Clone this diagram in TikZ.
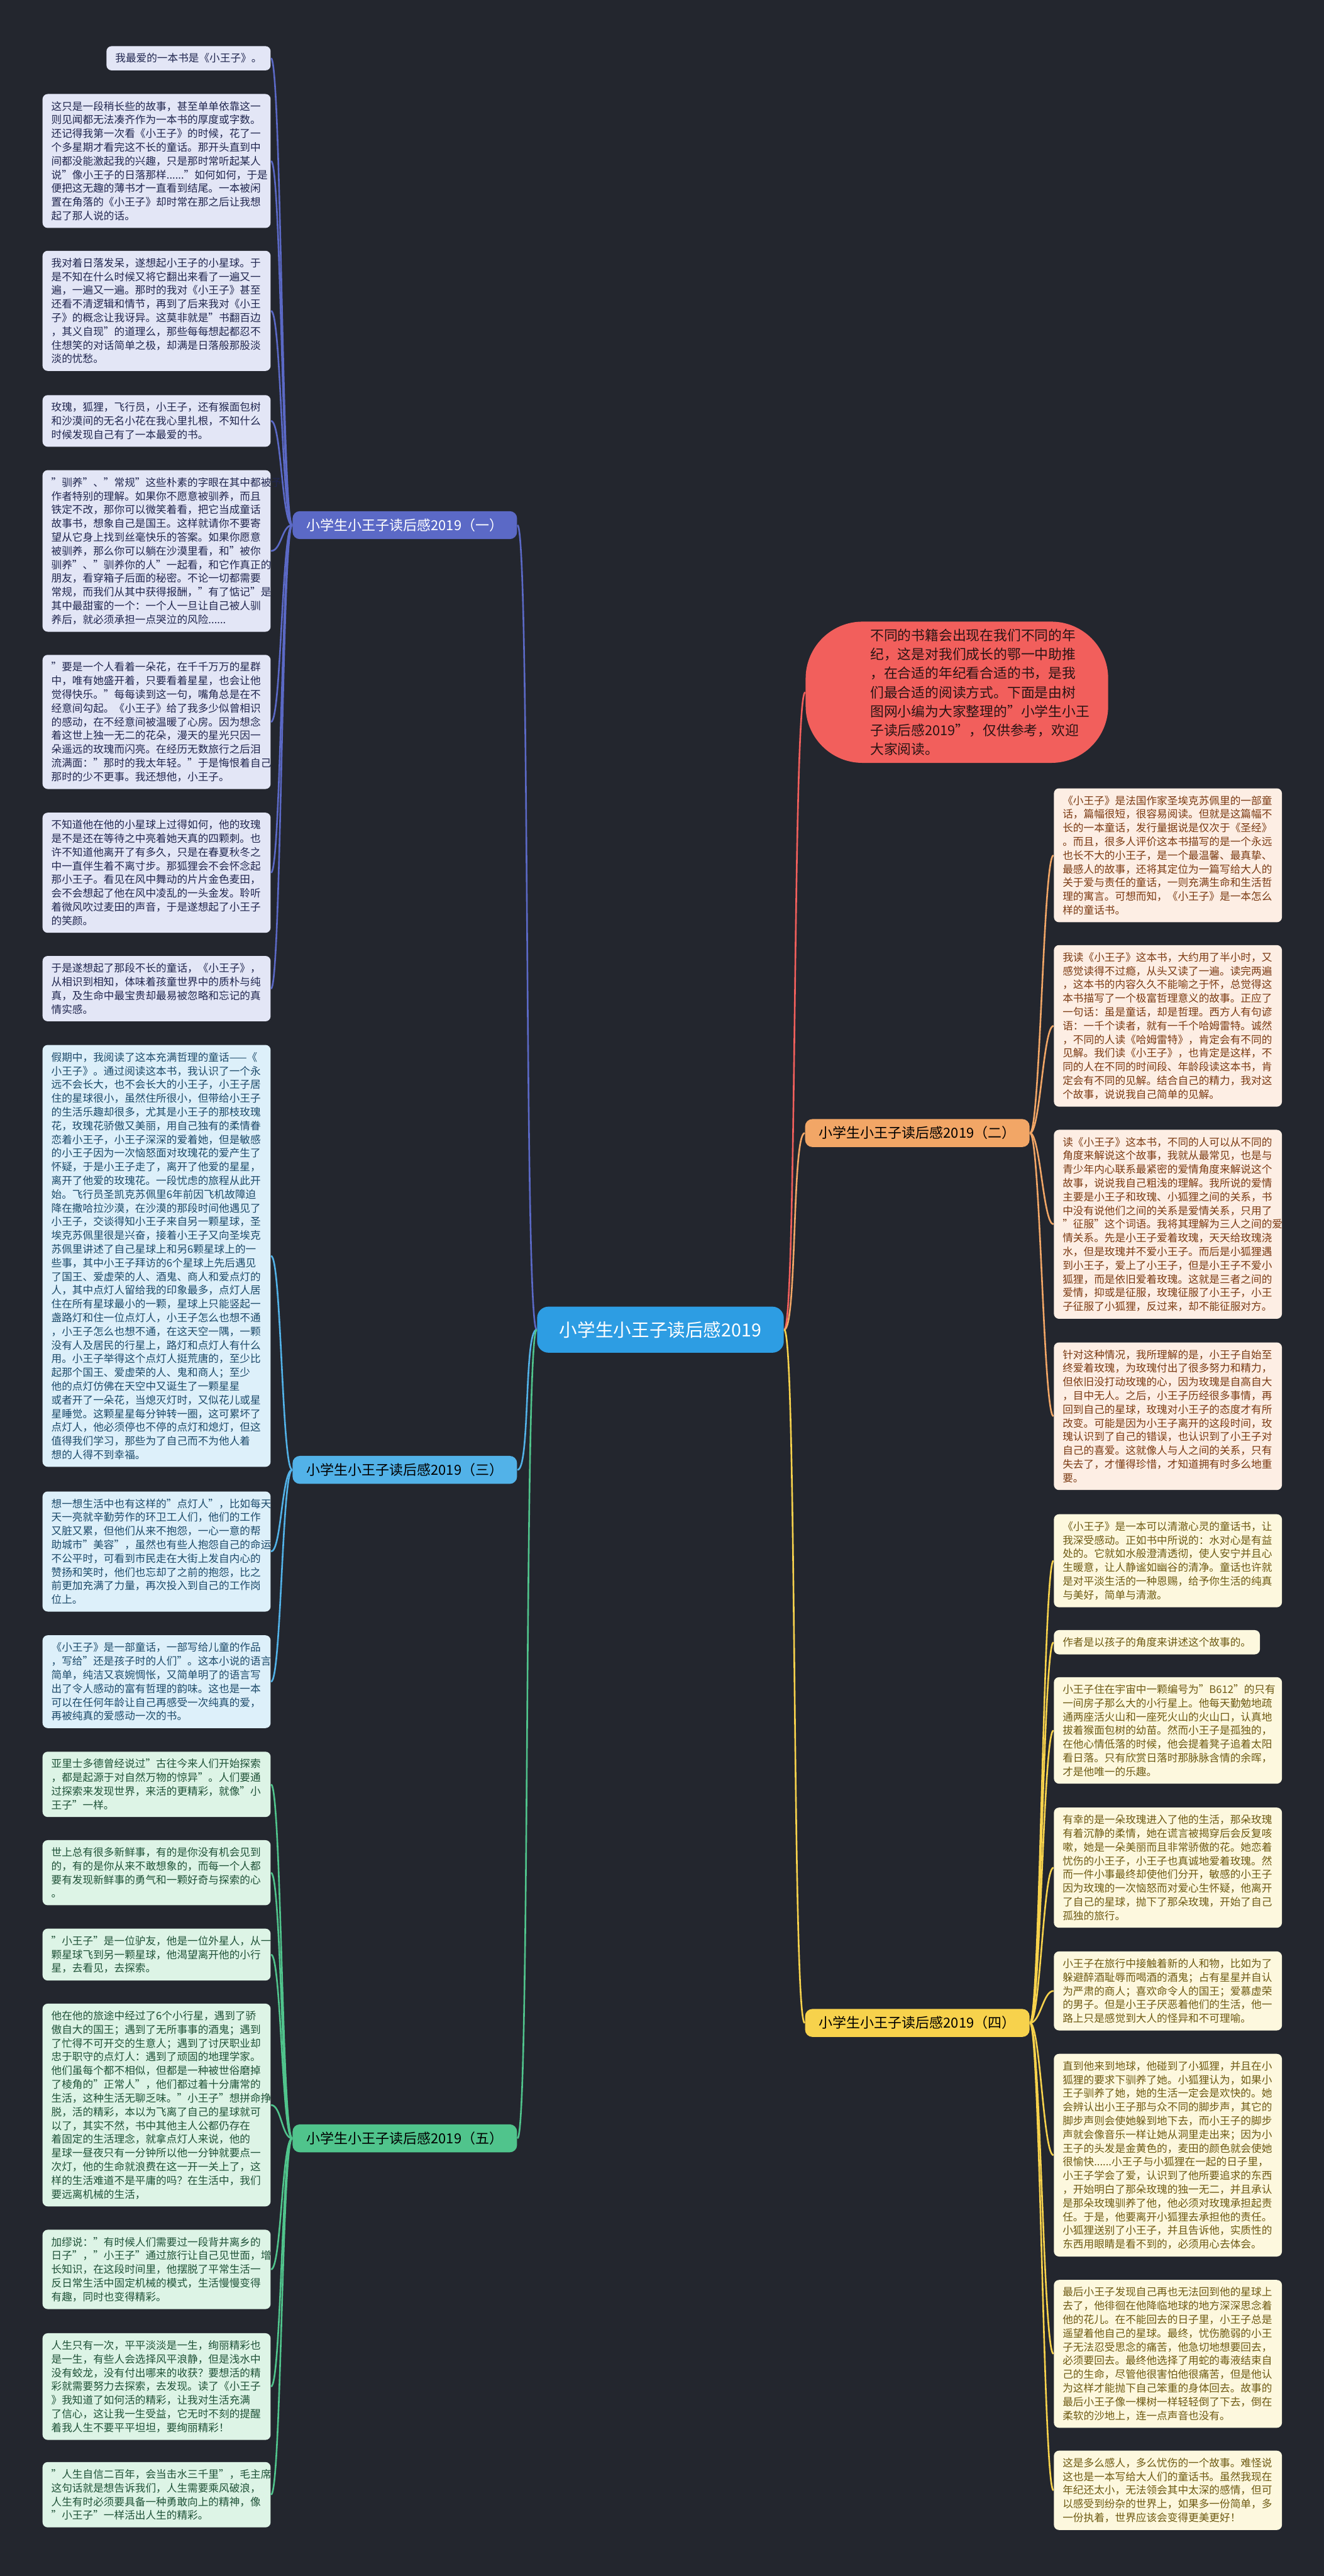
\documentclass[tikz,border=0pt]{standalone}
\usepackage{fontspec}
\setmainfont{Noto Sans CJK SC}
\usetikzlibrary{calc}

% colours of the map
\definecolor{bgdark}{HTML}{23262E}
\definecolor{rootblue}{HTML}{2D9DE3}
\definecolor{introred}{HTML}{F25F5C}
\definecolor{introtext}{HTML}{2A1414}
\definecolor{oneline}{HTML}{5B69C6}
\definecolor{oneleaf}{HTML}{E3E6F6}
\definecolor{onetext}{HTML}{20264F}
\definecolor{twoline}{HTML}{F2A666}
\definecolor{twoleaf}{HTML}{FDEEE4}
\definecolor{twotext}{HTML}{7B3A12}
\definecolor{threeline}{HTML}{52B2E8}
\definecolor{threeleaf}{HTML}{DDF0FA}
\definecolor{threetext}{HTML}{1C4A6A}
\definecolor{fourline}{HTML}{F7D24C}
\definecolor{fourleaf}{HTML}{FDF8DE}
\definecolor{fourtext}{HTML}{6E5A12}
\definecolor{fiveline}{HTML}{50C48C}
\definecolor{fiveleaf}{HTML}{DDF4E6}
\definecolor{fivetext}{HTML}{1F5238}

\begin{document}
\begin{tikzpicture}[
    leaf/.style={rounded corners=0.1cm, inner xsep=0.17cm, inner ysep=0.14cm,
      align=left, font=\fontsize{5.76pt}{7.54pt}\selectfont},
    wide/.style={text width=4.07cm},
    oneleaf/.style={leaf, fill=oneleaf, text=onetext},
    twoleaf/.style={leaf, fill=twoleaf, text=twotext},
    threeleaf/.style={leaf, fill=threeleaf, text=threetext},
    fourleaf/.style={leaf, fill=fourleaf, text=fourtext},
    fiveleaf/.style={leaf, fill=fiveleaf, text=fivetext},
    branch/.style={rounded corners=0.14cm, minimum width=4.34cm, minimum height=0.54cm,
      inner sep=0pt, font=\fontsize{7.6pt}{9pt}\selectfont},
    link/.style={line width=0.9pt}
  ]
  % background and page size
  \fill[bgdark] (0,0) rectangle (25.6,-49.79);
  \useasboundingbox (0,0) rectangle (25.6,-49.79);

  % root and introduction
  \node[fill=rootblue, text=white, rounded corners=0.22cm, minimum width=4.77cm,
    minimum height=0.89cm, font=\fontsize{9.9pt}{12pt}\selectfont] (root) at (12.77,-25.70)
    {小学生小王子读后感2019};
  \node[fill=introred, rounded corners=1.1cm, anchor=west, inner sep=0pt,
    minimum width=5.85cm, minimum height=2.73cm] (intro) at (15.57,-13.38) {};
  \node[text=introtext, anchor=west, align=left, inner sep=0pt,
    font=\fontsize{7.54pt}{10.4pt}\selectfont] (introtext) at (16.82,-13.38)
    {不同的书籍会出现在我们不同的年\\
     纪，这是对我们成长的鄂一中助推\\
     ，在合适的年纪看合适的书，是我\\
     们最合适的阅读方式。下面是由树\\
     图网小编为大家整理的"小学生小王\\
     子读后感2019"，仅供参考，欢迎\\
     大家阅读。};

  % the five branches
  \node[branch, fill=oneline, text=white, anchor=west] (one) at (5.65,-10.15)
    {小学生小王子读后感2019（一）};
  \node[branch, fill=twoline, text=black, anchor=west] (two) at (15.56,-21.90)
    {小学生小王子读后感2019（二）};
  \node[branch, fill=threeline, text=black, anchor=west] (three) at (5.65,-28.41)
    {小学生小王子读后感2019（三）};
  \node[branch, fill=fourline, text=black, anchor=west] (four) at (15.56,-39.10)
    {小学生小王子读后感2019（四）};
  \node[branch, fill=fiveline, text=black, anchor=west] (five) at (5.65,-41.33)
    {小学生小王子读后感2019（五）};

  % leaves of branch one
  \node[oneleaf, anchor=north east] (a1) at (5.24,-0.885) {我最爱的一本书是《小王子》。};
  \node[oneleaf, wide, anchor=north east] (a2) at (5.24,-1.81)
    {这只是一段稍长些的故事，甚至单单依靠这一\\
     则见闻都无法凑齐作为一本书的厚度或字数。\\
     还记得我第一次看《小王子》的时候，花了一\\
     个多星期才看完这不长的童话。那开头直到中\\
     间都没能激起我的兴趣，只是那时常听起某人\\
     说"像小王子的日落那样......"如何如何，于是\\
     便把这无趣的薄书才一直看到结尾。一本被闲\\
     置在角落的《小王子》却时常在那之后让我想\\
     起了那人说的话。};
  \node[oneleaf, wide, anchor=north east] (a3) at (5.24,-4.84)
    {我对着日落发呆，遂想起小王子的小星球。于\\
     是不知在什么时候又将它翻出来看了一遍又一\\
     遍，一遍又一遍。那时的我对《小王子》甚至\\
     还看不清逻辑和情节，再到了后来我对《小王\\
     子》的概念让我讶异。这莫非就是"书翻百边\\
     ，其义自现"的道理么，那些每每想起都忍不\\
     住想笑的对话简单之极，却满是日落般那股淡\\
     淡的忧愁。};
  \node[oneleaf, wide, anchor=north east] (a4) at (5.24,-7.63)
    {玫瑰，狐狸，飞行员，小王子，还有猴面包树\\
     和沙漠间的无名小花在我心里扎根，不知什么\\
     时候发现自己有了一本最爱的书。};
  \node[oneleaf, wide, anchor=north east] (a5) at (5.24,-9.08)
    {"驯养"、"常规"这些朴素的字眼在其中都被予\\
     作者特别的理解。如果你不愿意被驯养，而且\\
     铁定不改，那你可以微笑着看，把它当成童话\\
     故事书，想象自己是国王。这样就请你不要寄\\
     望从它身上找到丝毫快乐的答案。如果你愿意\\
     被驯养，那么你可以躺在沙漠里看，和"被你\\
     驯养"、"驯养你的人"一起看，和它作真正的\\
     朋友，看穿箱子后面的秘密。不论一切都需要\\
     常规，而我们从其中获得报酬，"有了惦记"是\\
     其中最甜蜜的一个：一个人一旦让自己被人驯\\
     养后，就必须承担一点哭泣的风险......};
  \node[oneleaf, wide, anchor=north east] (a6) at (5.24,-12.65)
    {"要是一个人看着一朵花，在千千万万的星群\\
     中，唯有她盛开着，只要看着星星，也会让他\\
     觉得快乐。"每每读到这一句，嘴角总是在不\\
     经意间勾起。《小王子》给了我多少似曾相识\\
     的感动，在不经意间被温暖了心房。因为想念\\
     着这世上独一无二的花朵，漫天的星光只因一\\
     朵遥远的玫瑰而闪亮。在经历无数旅行之后泪\\
     流满面："那时的我太年轻。"于是悔恨着自己\\
     那时的少不更事。我还想他，小王子。};
  \node[oneleaf, wide, anchor=north east] (a7) at (5.24,-15.70)
    {不知道他在他的小星球上过得如何，他的玫瑰\\
     是不是还在等待之中亮着她天真的四颗刺。也\\
     许不知道他离开了有多久，只是在春夏秋冬之\\
     中一直伴生着不离寸步。那狐狸会不会怀念起\\
     那小王子。看见在风中舞动的片片金色麦田，\\
     会不会想起了他在风中凌乱的一头金发。聆听\\
     着微风吹过麦田的声音，于是遂想起了小王子\\
     的笑颜。};
  \node[oneleaf, wide, anchor=north east] (a8) at (5.24,-18.47)
    {于是遂想起了那段不长的童话，《小王子》，\\
     从相识到相知，体味着孩童世界中的质朴与纯\\
     真，及生命中最宝贵却最易被忽略和忘记的真\\
     情实感。};

  % leaves of branch three
  \node[threeleaf, wide, anchor=north east] (c1) at (5.24,-20.19)
    {假期中，我阅读了这本充满哲理的童话——《\\
     小王子》。通过阅读这本书，我认识了一个永\\
     远不会长大，也不会长大的小王子，小王子居\\
     住的星球很小，虽然住所很小，但带给小王子\\
     的生活乐趣却很多，尤其是小王子的那枝玫瑰\\
     花，玫瑰花骄傲又美丽，用自己独有的柔情眷\\
     恋着小王子，小王子深深的爱着她，但是敏感\\
     的小王子因为一次恼怒面对玫瑰花的爱产生了\\
     怀疑，于是小王子走了，离开了他爱的星星，\\
     离开了他爱的玫瑰花。一段忧虑的旅程从此开\\
     始。飞行员圣凯克苏佩里6年前因飞机故障迫\\
     降在撒哈拉沙漠，在沙漠的那段时间他遇见了\\
     小王子，交谈得知小王子来自另一颗星球，圣\\
     埃克苏佩里很是兴奋，接着小王子又向圣埃克\\
     苏佩里讲述了自己星球上和另6颗星球上的一\\
     些事，其中小王子拜访的6个星球上先后遇见\\
     了国王、爱虚荣的人、酒鬼、商人和爱点灯的\\
     人，其中点灯人留给我的印象最多，点灯人居\\
     住在所有星球最小的一颗，星球上只能竖起一\\
     盏路灯和住一位点灯人，小王子怎么也想不通\\
     ，小王子怎么也想不通，在这天空一隅，一颗\\
     没有人及居民的行星上，路灯和点灯人有什么\\
     用。小王子举得这个点灯人挺荒唐的，至少比\\
     起那个国王、爱虚荣的人、鬼和商人；至少\\
     他的点灯仿佛在天空中又诞生了一颗星星\\
     或者开了一朵花，当熄灭灯时，又似花儿或星\\
     星睡觉。这颗星星每分钟转一圈，这可累坏了\\
     点灯人，他必须停也不停的点灯和熄灯，但这\\
     值得我们学习，那些为了自己而不为他人着\\
     想的人得不到幸福。};
  \node[threeleaf, wide, anchor=north east] (c2) at (5.24,-28.82)
    {想一想生活中也有这样的"点灯人"，比如每天\\
     天一亮就辛勤劳作的环卫工人们，他们的工作\\
     又脏又累，但他们从来不抱怨，一心一意的帮\\
     助城市"美容"，虽然也有些人抱怨自己的命运\\
     不公平时，可看到市民走在大街上发自内心的\\
     赞扬和笑时，他们也忘却了之前的抱怨，比之\\
     前更加充满了力量，再次投入到自己的工作岗\\
     位上。};
  \node[threeleaf, wide, anchor=north east] (c3) at (5.24,-31.60)
    {《小王子》是一部童话，一部写给儿童的作品\\
     ，写给"还是孩子时的人们"。这本小说的语言\\
     简单，纯洁又哀婉惆怅，又简单明了的语言写\\
     出了令人感动的富有哲理的韵味。这也是一本\\
     可以在任何年龄让自己再感受一次纯真的爱，\\
     再被纯真的爱感动一次的书。};

  % leaves of branch five
  \node[fiveleaf, wide, anchor=north east] (e1) at (5.24,-33.85)
    {亚里士多德曾经说过"古往今来人们开始探索\\
     ，都是起源于对自然万物的惊异"。人们要通\\
     过探索来发现世界，来活的更精彩，就像"小\\
     王子"一样。};
  \node[fiveleaf, wide, anchor=north east] (e2) at (5.24,-35.56)
    {世上总有很多新鲜事，有的是你没有机会见到\\
     的，有的是你从来不敢想象的，而每一个人都\\
     要有发现新鲜事的勇气和一颗好奇与探索的心\\
     。};
  \node[fiveleaf, wide, anchor=north east] (e3) at (5.24,-37.27)
    {"小王子"是一位驴友，他是一位外星人，从一\\
     颗星球飞到另一颗星球，他渴望离开他的小行\\
     星，去看见，去探索。};
  \node[fiveleaf, wide, anchor=north east] (e4) at (5.24,-38.72)
    {他在他的旅途中经过了6个小行星，遇到了骄\\
     傲自大的国王；遇到了无所事事的酒鬼；遇到\\
     了忙得不可开交的生意人；遇到了讨厌职业却\\
     忠于职守的点灯人：遇到了顽固的地理学家。\\
     他们虽每个都不相似，但都是一种被世俗磨掉\\
     了棱角的"正常人"，他们都过着十分庸常的\\
     生活，这种生活无聊乏味。"小王子"想拼命挣\\
     脱，活的精彩，本以为飞离了自己的星球就可\\
     以了，其实不然，书中其他主人公都仍存在\\
     着固定的生活理念，就拿点灯人来说，他的\\
     星球一昼夜只有一分钟所以他一分钟就要点一\\
     次灯，他的生命就浪费在这一开一关上了，这\\
     样的生活难道不是平庸的吗？在生活中，我们\\
     要远离机械的生活，};
  \node[fiveleaf, wide, anchor=north east] (e5) at (5.24,-43.09)
    {加缪说："有时候人们需要过一段背井离乡的\\
     日子"，"小王子"通过旅行让自己见世面，增\\
     长知识，在这段时间里，他摆脱了平常生活一\\
     反日常生活中固定机械的模式，生活慢慢变得\\
     有趣，同时也变得精彩。};
  \node[fiveleaf, wide, anchor=north east] (e6) at (5.24,-45.09)
    {人生只有一次，平平淡淡是一生，绚丽精彩也\\
     是一生，有些人会选择风平浪静，但是浅水中\\
     没有蛟龙，没有付出哪来的收获？要想活的精\\
     彩就需要努力去探索，去发现。读了《小王子\\
     》我知道了如何活的精彩，让我对生活充满\\
     了信心，这让我一生受益，它无时不刻的提醒\\
     着我人生不要平平坦坦，要绚丽精彩！};
  \node[fiveleaf, wide, anchor=north east] (e7) at (5.24,-47.58)
    {"人生自信二百年，会当击水三千里"，毛主席\\
     这句话就是想告诉我们，人生需要乘风破浪，\\
     人生有时必须要具备一种勇敢向上的精神，像\\
     "小王子"一样活出人生的精彩。};

  % leaves of branch two
  \node[twoleaf, wide, anchor=north west] (b1) at (20.37,-15.23)
    {《小王子》是法国作家圣埃克苏佩里的一部童\\
     话，篇幅很短，很容易阅读。但就是这篇幅不\\
     长的一本童话，发行量据说是仅次于《圣经》\\
     。而且，很多人评价这本书描写的是一个永远\\
     也长不大的小王子，是一个最温馨、最真挚、\\
     最感人的故事，还将其定位为一篇写给大人的\\
     关于爱与责任的童话，一则充满生命和生活哲\\
     理的寓言。可想而知，《小王子》是一本怎么\\
     样的童话书。};
  \node[twoleaf, wide, anchor=north west] (b2) at (20.37,-18.26)
    {我读《小王子》这本书，大约用了半小时，又\\
     感觉读得不过瘾，从头又读了一遍。读完两遍\\
     ，这本书的内容久久不能喻之于怀，总觉得这\\
     本书描写了一个极富哲理意义的故事。正应了\\
     一句话：虽是童话，却是哲理。西方人有句谚\\
     语：一千个读者，就有一千个哈姆雷特。诚然\\
     ，不同的人读《哈姆雷特》，肯定会有不同的\\
     见解。我们读《小王子》，也肯定是这样，不\\
     同的人在不同的时间段、年龄段读这本书，肯\\
     定会有不同的见解。结合自己的精力，我对这\\
     个故事，说说我自己简单的见解。};
  \node[twoleaf, wide, anchor=north west] (b3) at (20.37,-21.83)
    {读《小王子》这本书，不同的人可以从不同的\\
     角度来解说这个故事，我就从最常见，也是与\\
     青少年内心联系最紧密的爱情角度来解说这个\\
     故事，说说我自己粗浅的理解。我所说的爱情\\
     主要是小王子和玫瑰、小狐狸之间的关系，书\\
     中没有说他们之间的关系是爱情关系，只用了\\
     "征服"这个词语。我将其理解为三人之间的爱\\
     情关系。先是小王子爱着玫瑰，天天给玫瑰浇\\
     水，但是玫瑰并不爱小王子。而后是小狐狸遇\\
     到小王子，爱上了小王子，但是小王子不爱小\\
     狐狸，而是依旧爱着玫瑰。这就是三者之间的\\
     爱情，抑或是征服，玫瑰征服了小王子，小王\\
     子征服了小狐狸，反过来，却不能征服对方。};
  \node[twoleaf, wide, anchor=north west] (b4) at (20.37,-25.94)
    {针对这种情况，我所理解的是，小王子自始至\\
     终爱着玫瑰，为玫瑰付出了很多努力和精力，\\
     但依旧没打动玫瑰的心，因为玫瑰是自高自大\\
     ，目中无人。之后，小王子历经很多事情，再\\
     回到自己的星球，玫瑰对小王子的态度才有所\\
     改变。可能是因为小王子离开的这段时间，玫\\
     瑰认识到了自己的错误，也认识到了小王子对\\
     自己的喜爱。这就像人与人之间的关系，只有\\
     失去了，才懂得珍惜，才知道拥有时多么地重\\
     要。};

  % leaves of branch four
  \node[fourleaf, wide, anchor=north west] (d1) at (20.37,-29.26)
    {《小王子》是一本可以清澈心灵的童话书，让\\
     我深受感动。正如书中所说的：水对心是有益\\
     处的。它就如水般澄清透彻，使人安宁并且心\\
     生暖意，让人静谧如幽谷的清净。童话也许就\\
     是对平淡生活的一种恩赐，给予你生活的纯真\\
     与美好，简单与清澈。};
  \node[fourleaf, anchor=north west] (d2) at (20.37,-31.50)
    {作者是以孩子的角度来讲述这个故事的。};
  \node[fourleaf, wide, anchor=north west] (d3) at (20.37,-32.41)
    {小王子住在宇宙中一颗编号为"B612"的只有\\
     一间房子那么大的小行星上。他每天勤勉地疏\\
     通两座活火山和一座死火山的火山口，认真地\\
     拔着猴面包树的幼苗。然而小王子是孤独的，\\
     在他心情低落的时候，他会提着凳子追着太阳\\
     看日落。只有欣赏日落时那脉脉含情的余晖，\\
     才是他唯一的乐趣。};
  \node[fourleaf, wide, anchor=north west] (d4) at (20.37,-34.93)
    {有幸的是一朵玫瑰进入了他的生活，那朵玫瑰\\
     有着沉静的柔情，她在谎言被揭穿后会反复咳\\
     嗽，她是一朵美丽而且非常骄傲的花。她恋着\\
     忧伤的小王子，小王子也真诚地爱着玫瑰。然\\
     而一件小事最终却使他们分开，敏感的小王子\\
     因为玫瑰的一次恼怒而对爱心生怀疑，他离开\\
     了自己的星球，抛下了那朵玫瑰，开始了自己\\
     孤独的旅行。};
  \node[fourleaf, wide, anchor=north west] (d5) at (20.37,-37.71)
    {小王子在旅行中接触着新的人和物，比如为了\\
     躲避醉酒耻辱而喝酒的酒鬼；占有星星并自认\\
     为严肃的商人；喜欢命令人的国王；爱慕虚荣\\
     的男子。但是小王子厌恶着他们的生活，他一\\
     路上只是感觉到大人的怪异和不可理喻。};
  \node[fourleaf, wide, anchor=north west] (d6) at (20.37,-39.69)
    {直到他来到地球，他碰到了小狐狸，并且在小\\
     狐狸的要求下驯养了她。小狐狸认为，如果小\\
     王子驯养了她，她的生活一定会是欢快的。她\\
     会辨认出小王子那与众不同的脚步声，其它的\\
     脚步声则会使她躲到地下去，而小王子的脚步\\
     声就会像音乐一样让她从洞里走出来；因为小\\
     王子的头发是金黄色的，麦田的颜色就会使她\\
     很愉快......小王子与小狐狸在一起的日子里，\\
     小王子学会了爱，认识到了他所要追求的东西\\
     ，开始明白了那朵玫瑰的独一无二，并且承认\\
     是那朵玫瑰驯养了他，他必须对玫瑰承担起责\\
     任。于是，他要离开小狐狸去承担他的责任。\\
     小狐狸送别了小王子，并且告诉他，实质性的\\
     东西用眼睛是看不到的，必须用心去体会。};
  \node[fourleaf, wide, anchor=north west] (d7) at (20.37,-44.06)
    {最后小王子发现自己再也无法回到他的星球上\\
     去了，他徘徊在他降临地球的地方深深思念着\\
     他的花儿。在不能回去的日子里，小王子总是\\
     遥望着他自己的星球。最终，忧伤脆弱的小王\\
     子无法忍受思念的痛苦，他急切地想要回去，\\
     必须要回去。最终他选择了用蛇的毒液结束自\\
     己的生命，尽管他很害怕他很痛苦，但是他认\\
     为这样才能抛下自己笨重的身体回去。故事的\\
     最后小王子像一棵树一样轻轻倒了下去，倒在\\
     柔软的沙地上，连一点声音也没有。};
  \node[fourleaf, wide, anchor=north west] (d8) at (20.37,-47.36)
    {这是多么感人，多么忧伤的一个故事。难怪说\\
     这也是一本写给大人们的童话书。虽然我现在\\
     年纪还太小，无法领会其中太深的感情，但可\\
     以感受到纷杂的世界上，如果多一份简单，多\\
     一份执着，世界应该会变得更美更好！};

  % root to branches
  \draw[link, introred] (root.east) .. controls +(0.25,0) and +(-0.25,0) .. (intro.west);
  \draw[link, oneline] (root.west) .. controls +(-0.25,0) and +(0.25,0) .. (one.east);
  \draw[link, twoline] (root.east) .. controls +(0.25,0) and +(-0.25,0) .. (two.west);
  \draw[link, threeline] (root.west) .. controls +(-0.25,0) and +(0.25,0) .. (three.east);
  \draw[link, fourline] (root.east) .. controls +(0.25,0) and +(-0.25,0) .. (four.west);
  \draw[link, fiveline] (root.west) .. controls +(-0.25,0) and +(0.25,0) .. (five.east);

  % branches to leaves
  \foreach \leaf in {a1,a2,a3,a4,a5,a6,a7,a8}
    \draw[link, oneline] (one.west) .. controls +(-0.2,0) and +(0.2,0) .. (\leaf.east);
  \foreach \leaf in {c1,c2,c3}
    \draw[link, threeline] (three.west) .. controls +(-0.2,0) and +(0.2,0) .. (\leaf.east);
  \foreach \leaf in {e1,e2,e3,e4,e5,e6,e7}
    \draw[link, fiveline] (five.west) .. controls +(-0.2,0) and +(0.2,0) .. (\leaf.east);
  \foreach \leaf in {b1,b2,b3,b4}
    \draw[link, twoline] (two.east) .. controls +(0.2,0) and +(-0.2,0) .. (\leaf.west);
  \foreach \leaf in {d1,d2,d3,d4,d5,d6,d7,d8}
    \draw[link, fourline] (four.east) .. controls +(0.2,0) and +(-0.2,0) .. (\leaf.west);
\end{tikzpicture}
\end{document}
